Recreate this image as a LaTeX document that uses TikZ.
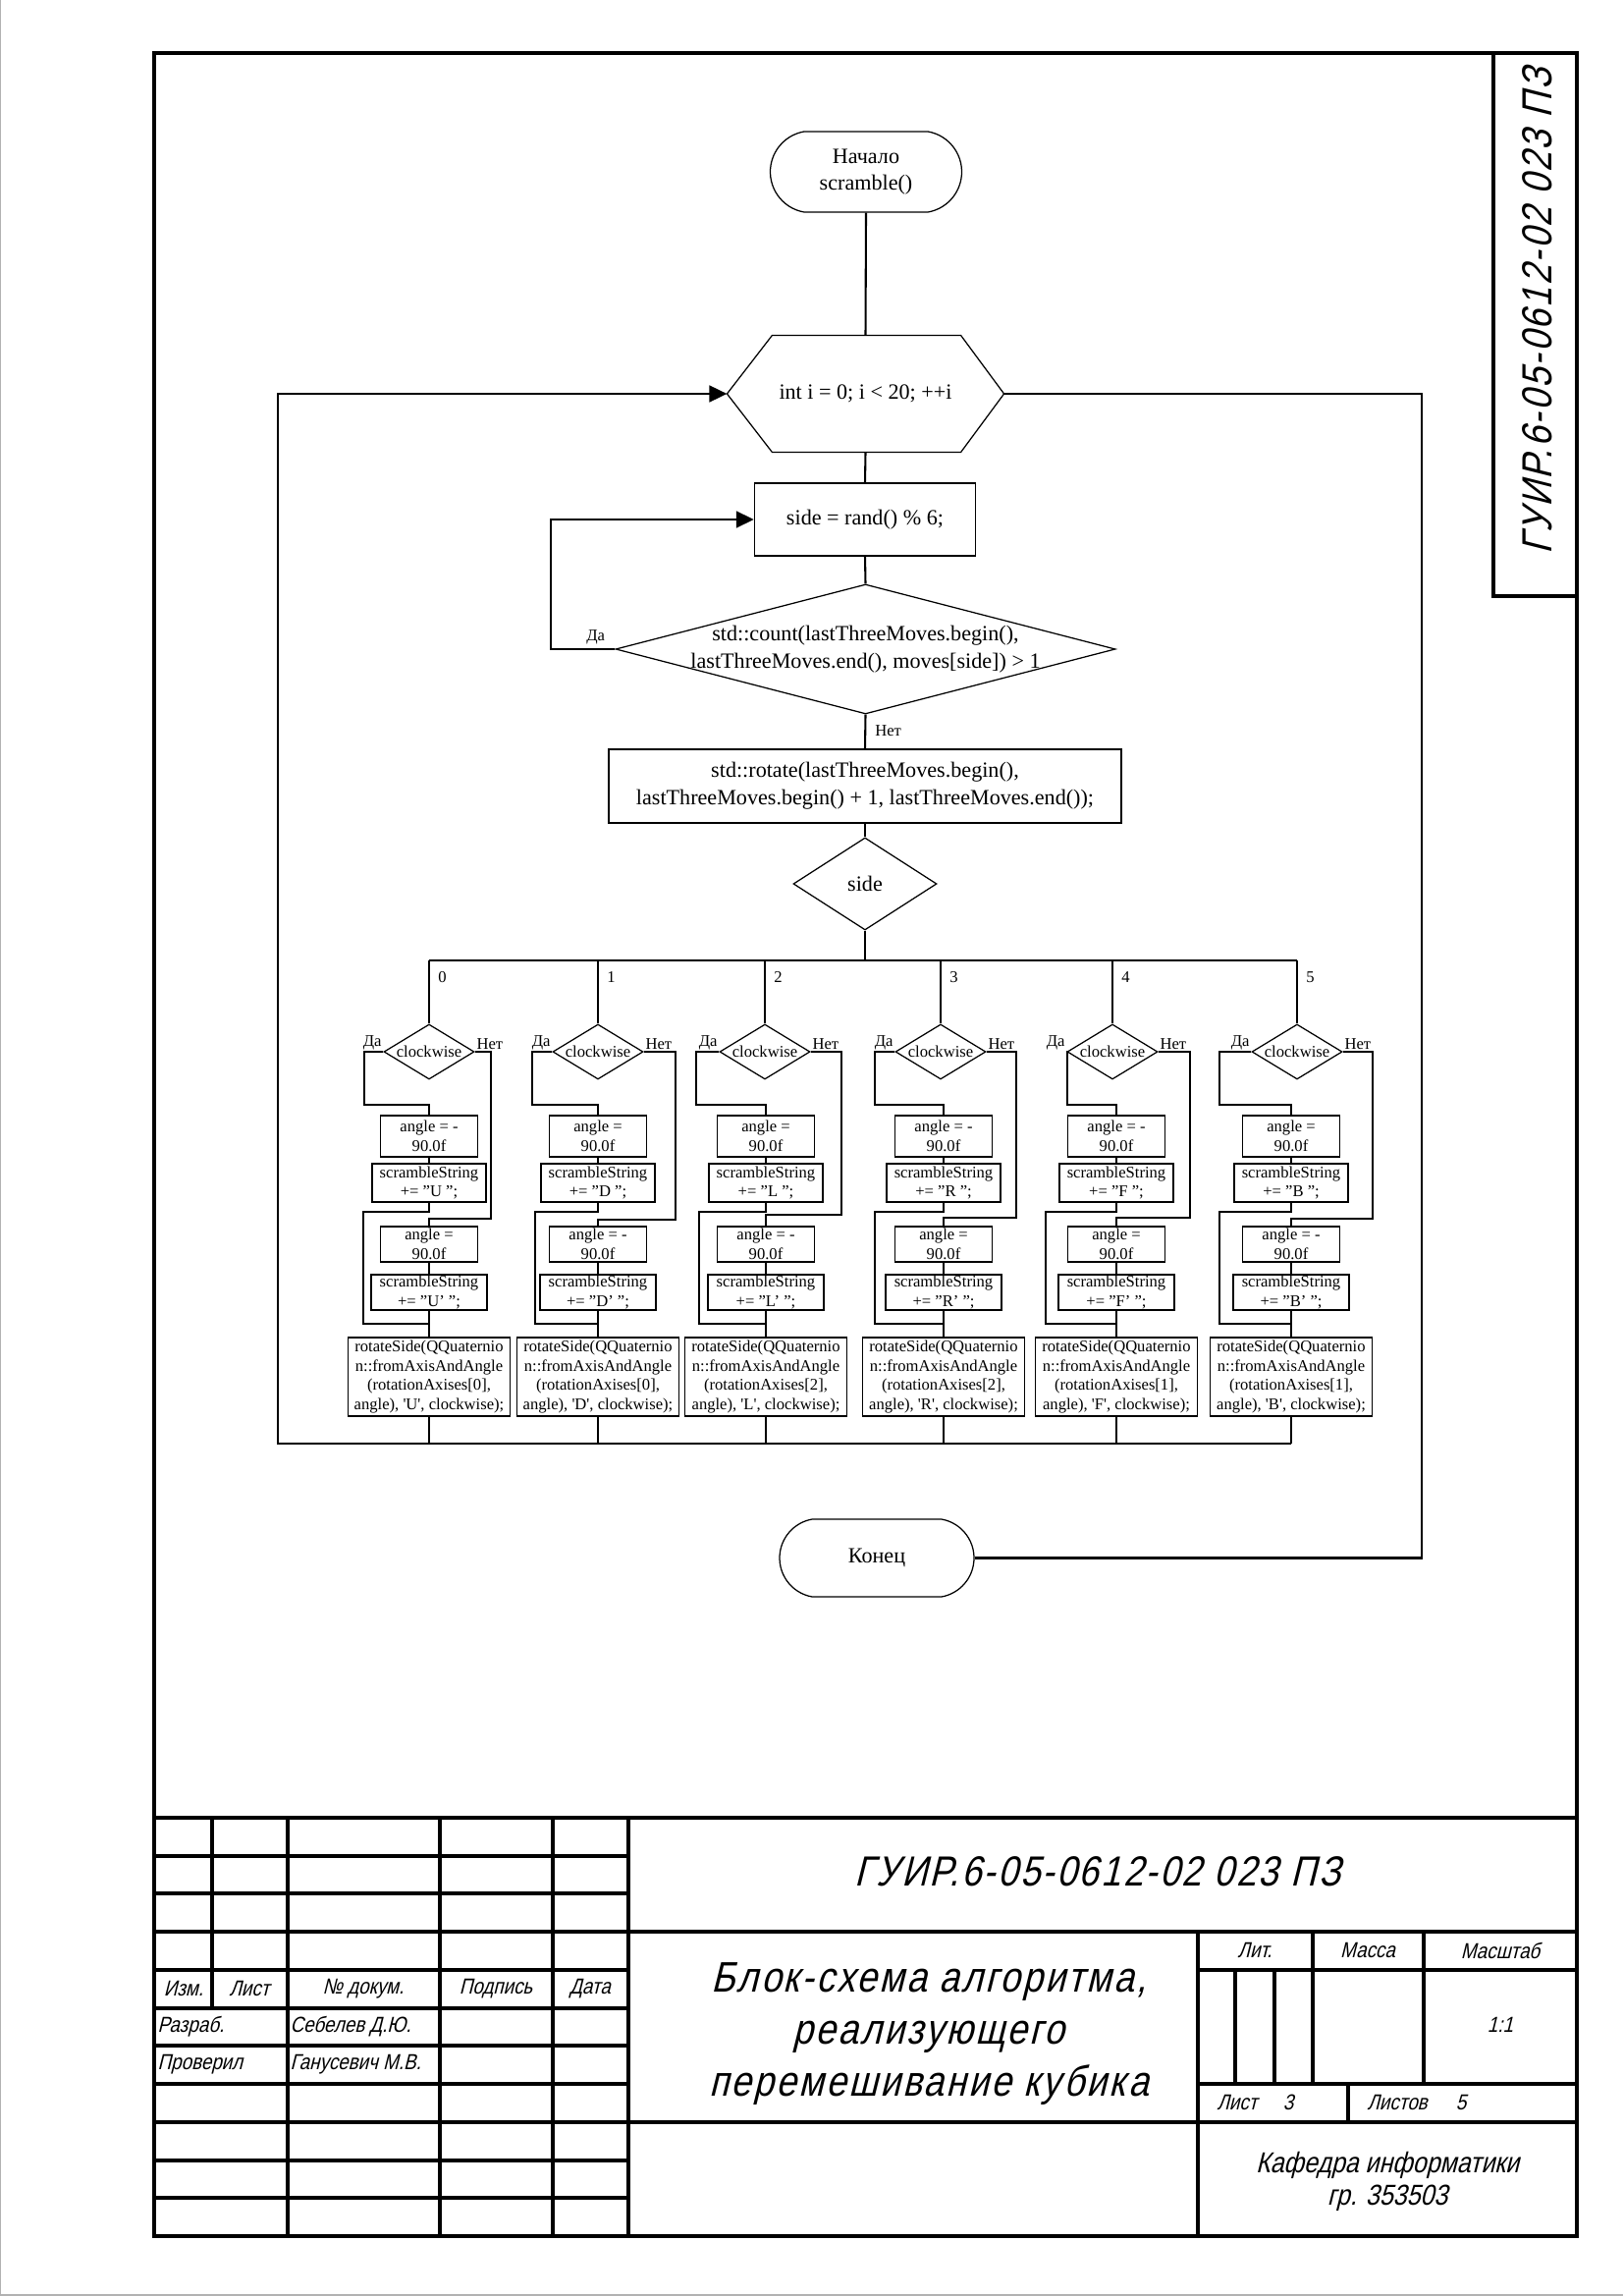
\documentclass[tikz,border=0pt]{standalone}
\usepackage{fontspec}
\setmainfont{Liberation Serif}
\newfontfamily\gost{Liberation Sans}[FakeSlant=0.25,FakeStretch=0.85]
\newfontfamily\gostw{Liberation Sans}[FakeSlant=0.25,FakeStretch=0.85,LetterSpace=5.5]
\usetikzlibrary{arrows.meta,shapes.geometric,shapes.misc,calc}
\newcommand\pxl{0.127mm}
\newcommand\sq{\textquotesingle}
\def\sgnm{ -}
\def\sgnp{}
\begin{document}
\begin{tikzpicture}[x=0.127mm,y=-0.127mm,
  shp/.style={draw,line width=0.45pt},
  sz/.style 2 args={minimum width=#1*\pxl,minimum height=#2*\pxl},
  term/.style={shp,rounded rectangle,rounded rectangle arc length=160,inner sep=0pt,align=center,font=\fontsize{8}{10}\selectfont},
  proc/.style={shp,rectangle,inner sep=0pt,align=center,font=\fontsize{8}{10}\selectfont},
  dia/.style={shp,diamond,inner sep=0pt},
  txt/.style={inner sep=0pt,align=center,font=\fontsize{8}{10}\selectfont},
  cbox/.style={shp,rectangle,inner sep=0pt,align=center,font=\fontsize{6}{7}\selectfont},
  ctxt/.style={inner sep=0pt,font=\fontsize{6}{7}\selectfont},
  lbl/.style={inner sep=1pt,font=\fontsize{6}{7}\selectfont},
  conn/.style={line width=0.75pt},
  thinconn/.style={line width=0.5pt},
  loopl/.style={line width=1.0pt},
  arr/.style={-{Triangle[length=6.5pt,width=6pt]}},
  frame/.style={line width=1.7pt},
  tb/.style={line width=1.5pt},
  gsm/.style={inner sep=0pt,font=\gost\fontsize{8}{9}\selectfont},
  gmid/.style={inner sep=0pt,font=\gost\fontsize{10.6}{12}\selectfont},
  gbig/.style={inner sep=0pt,font=\gostw\fontsize{15.5}{19}\selectfont}
]
\useasboundingbox (0,0) rectangle (1653,2338);
\fill[white] (0,0) rectangle (1653,2338);
\draw[gray!60,line width=0.5pt] (0.7,0) -- (0.7,2337) -- (1653,2337);

% ---------- frame ----------
\draw[frame] (157,54) rectangle (1606,2277);
\draw[frame] (1521,54) -- (1521,607) -- (1606,607);
\node[gbig,rotate=90] (scode) at (1566,317) {ГУИР.6-05-0612-02 023 ПЗ};

% ---------- main flow ----------
\node[term,sz={195}{82}] (start) at (882,175) {Начало\\scramble()};
\node[txt,sz={281}{118}] (hex) at (881.5,401) {int i = 0; i < 20; ++i};
\draw[shp] (hex.west) -- ([xshift=46*\pxl]hex.north west) -- ([xshift=-44*\pxl]hex.north east)
  -- (hex.east) -- ([xshift=-44*\pxl]hex.south east) -- ([xshift=46*\pxl]hex.south west) -- cycle;
\node[proc,sz={225}{74}] (siderect) at (881,529) {side = rand() \% 6;};
\node[dia,sz={509}{132}] (cnt) at (881.5,661) {};
\node[txt] (cnttxt) at (cnt) {std::count(lastThreeMoves.begin(),\\lastThreeMoves.end(), moves[side]) > 1};
\node[proc,sz={522}{75}] (rot) at (881,800.5) {std::rotate(lastThreeMoves.begin(),\\lastThreeMoves.begin() + 1, lastThreeMoves.end());};
\node[dia,sz={146}{94}] (sd) at (881,900) {};
\node[txt] (sdtxt) at (sd) {side};
\node[term,sz={198}{79}] (fin) at (893,1586.5) {Конец};

\draw[conn] (start.south) -- (hex.north);
\draw[conn] (hex.south) -- (siderect.north);
\draw[conn] (siderect.south) -- (cnt.north);
\draw[conn] (cnt.south) -- (rot.north);
\draw[conn] (rot.south) -- (sd.north);
\node[lbl,anchor=west] (netmain) at (888,744) {Нет};

\coordinate (daL) at (561,529);
\draw[loopl,arr] (cnt.west) -| (daL) -- (siderect.west);
\node[lbl,anchor=west] (damain) at (594,649) {Да};

\coordinate (busT) at (881,978);
\draw[conn] (sd.south) -- (busT);

\coordinate (loopBL) at (283,1470);
\coordinate (busB) at (1315,1470);
\draw[loopl,arr] (busB) -- (loopBL) |- (hex.west);

\coordinate (exitR) at (1448,401);
\draw[conn] (hex.east) -- (exitR) |- (fin.east);

% ---------- columns ----------
\foreach \i/\dx/\bx/\la/\lb/\rn/\fl/\ax/\sgA/\sgB/\yn in {
  0/437/437/371/370/500/U/0/m/p/1241,
  1/609/609/542/545/688/D/0/p/m/1242,
  2/779/780/709/712/857/L/2/p/m/1237,
  3/958/961/891/891/1035/R/2/m/p/1240,
  4/1133/1137/1087/1065/1212/F/1/m/p/1240,
  5/1321/1315/1242/1242/1398/B/1/p/m/1241}{
  \node[dia,sz={92}{56}] (d\i) at (\dx,1071) {};
  \node[ctxt] (dt\i) at (d\i) {clockwise};
  \node[lbl,anchor=south east,inner sep=0.5pt] (da\i) at (d\i.west) {Да};
  \node[lbl,anchor=south west,inner sep=0.5pt] (net\i) at (d\i.east) {Нет};
  \node[lbl,anchor=west] (case\i) at (\dx+6,995) {\i};
  \node[cbox,sz={99}{42}] (a\i) at (\bx,1157) {angle =\csname sgn\sgA\endcsname\\90.0f};
  \node[cbox,sz={116}{39}] (s\i) at (\bx,1204.5) {scrambleString\\+= "\fl\ ";};
  \node[cbox,sz={99}{36}] (b\i) at (\bx,1267) {angle =\csname sgn\sgB\endcsname\\90.0f};
  \node[cbox,sz={118}{36}] (t\i) at (\bx,1316) {scrambleString\\+= "\fl’ ";};
  \node[cbox,sz={165}{80}] (r\i) at (\bx,1402) {rotateSide(QQuaternio\\n::fromAxisAndAngle\\(rotationAxises[\ax],\\angle), \sq\fl\sq, clockwise);};
  \draw[conn] (d\i.north) -- (d\i.north |- busT);
  \draw[conn] (d\i.west) -- (\la,1071) -- (\la,1125) -- (\bx,1125) -- (a\i.north);
  \draw[conn] (a\i.south) -- (s\i.north);
  \draw[conn] (s\i.south) -- (\bx,1234) -- (\lb,1234) -- (\lb,1348) -- (\bx,1348) -- (r\i.north);
  \draw[conn] (d\i.east) -- (\rn,1071) -- (\rn,\yn) -- (\bx,\yn) -- (b\i.north);
  \draw[conn] (b\i.south) -- (t\i.north);
  \draw[conn] (t\i.south) -- (r\i.north);
  \draw[thinconn] (r\i.south) -- (r\i.south |- loopBL);
}
\draw[conn] (d0.north |- busT) -- (d5.north |- busT);

% ---------- title block ----------
\draw[tb] (158,1851) -- (1606,1851);
\foreach \yy in {1890,1928,1967,2006,2045,2083,2122,2161,2200,2238}{
  \draw[tb] (158,\yy) -- (640,\yy);
}
\draw[tb] (640,1967) -- (1606,1967);
\draw[tb] (1220,2006) -- (1606,2006);
\draw[tb] (1220,2122) -- (1606,2122);
\draw[tb] (640,2161) -- (1606,2161);
\draw[tb] (216,1851) -- (216,2045);
\foreach \xx in {293,448,563,640}{
  \draw[tb] (\xx,1851) -- (\xx,2277);
}
\draw[tb] (1220,1967) -- (1220,2277);
\draw[tb] (1258,2006) -- (1258,2122);
\draw[tb] (1298,2006) -- (1298,2122);
\draw[tb] (1337,1967) -- (1337,2122);
\draw[tb] (1450,1967) -- (1450,2122);
\draw[tb] (1373,2122) -- (1373,2161);

\node[gbig] (tcode) at (1118,1906) {ГУИР.6-05-0612-02 023 ПЗ};
\node[gbig,align=center,font=\gostw\fontsize{15.7}{19}\selectfont] (tname) at (946,2071) {Блок-схема алгоритма,\\реализующего\\перемешивание кубика};
\node[gsm] (izm) at (187,2025) {Изм.};
\node[gsm] (list) at (254,2025) {Лист};
\node[gsm] (ndoc) at (370,2025) {№ докум.};
\node[gsm] (podp) at (505,2025) {Подпись};
\node[gsm] (data) at (601,2025) {Дата};
\node[gsm,anchor=west] (razr) at (160,2064) {Разраб.};
\node[gsm,anchor=west] (razrn) at (295,2064) {Себелев Д.Ю.};
\node[gsm,anchor=west] (prov) at (160,2102) {Проверил};
\node[gsm,anchor=west] (provn) at (295,2102) {Ганусевич М.В.};
\node[gsm] (lit) at (1278,1986) {Лит.};
\node[gsm] (massa) at (1393,1986) {Масса};
\node[gsm] (masht) at (1528,1986) {Масштаб};
\node[gsm] (scl) at (1528,2062) {1:1};
\node[gsm,anchor=west] (lst) at (1239,2141) {Лист};
\node[gsm] (lstn) at (1312,2141) {3};
\node[gsm,anchor=west] (lsts) at (1392,2141) {Листов};
\node[gsm] (lstsn) at (1488,2141) {5};
\node[gmid,align=center] (kaf) at (1413,2221) {Кафедра информатики\\гр. 353503};
\end{tikzpicture}
\end{document}
